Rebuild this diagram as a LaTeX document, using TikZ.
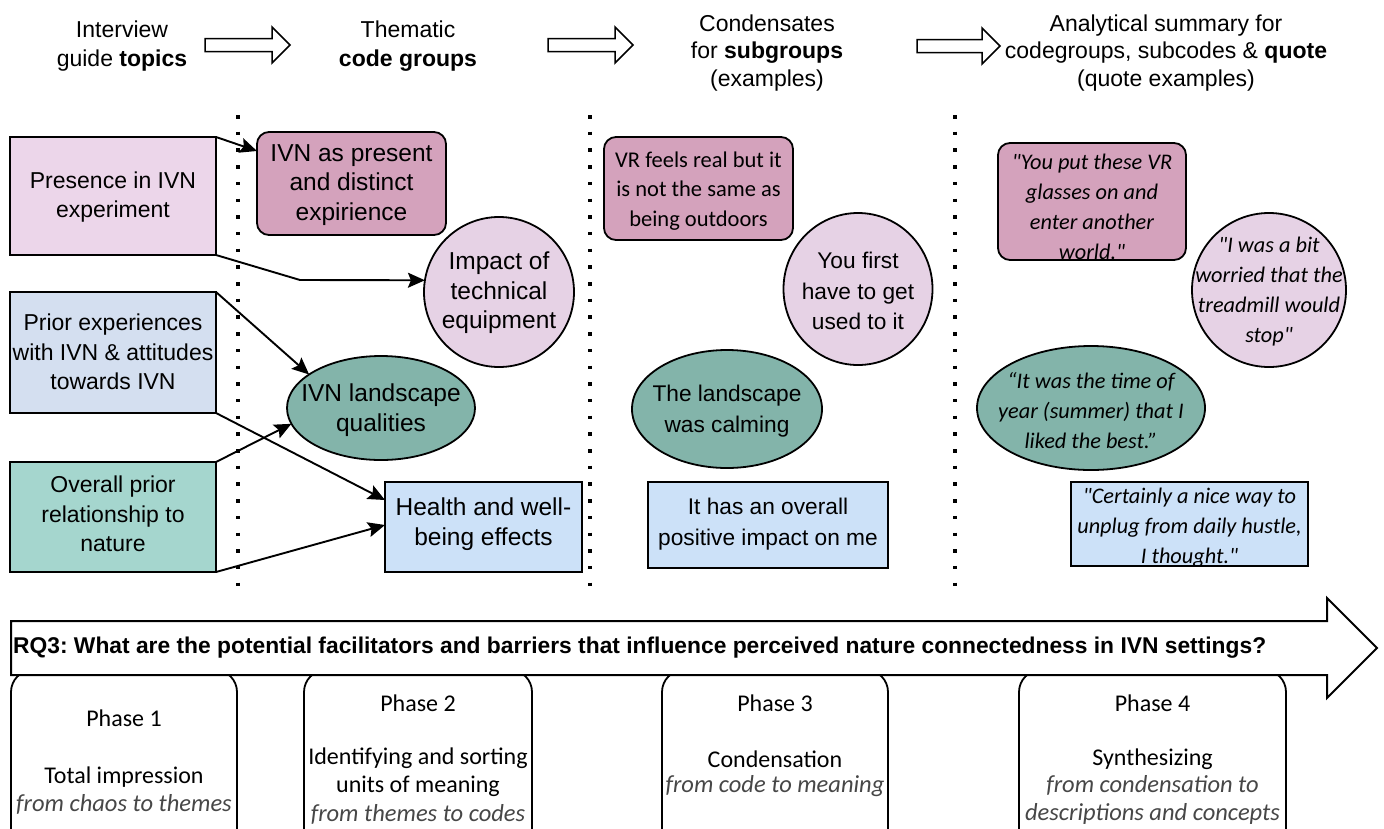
\documentclass[tikz,border=0pt]{standalone}
\usepackage{fontspec}
\setmainfont{Liberation Sans}
\newfontfamily\calfont{Carlito}
\newfontfamily\calq[Ligatures=TeXOff]{Carlito}
\usetikzlibrary{arrows.meta,shapes.geometric,calc}
\frenchspacing
\definecolor{cPres}{HTML}{ECD6EA}
\definecolor{cLight}{HTML}{E6D2E5}
\definecolor{cDark}{HTML}{D4A2BC}
\definecolor{cPrior}{HTML}{D4DFF0}
\definecolor{cOverall}{HTML}{A5D6CE}
\definecolor{cTeal}{HTML}{83B4AA}
\definecolor{cBlue}{HTML}{CCE1F8}
\newcommand\hdrarrow[3]{\draw[blk] ({#1},{#3-6.5}) -- ({#2-18},{#3-6.5}) -- ({#2-18},{#3-18}) -- ({#2},{#3}) -- ({#2-18},{#3+18}) -- ({#2-18},{#3+6.5}) -- ({#1},{#3+6.5}) -- cycle;}
\begin{document}
\begin{tikzpicture}[x=1pt,y=-1pt,
  shp/.style={draw=black,line width=1.8pt,inner sep=0pt,outer sep=0pt},
  sq/.style={shp,rectangle},
  rbox/.style={shp,rectangle,rounded corners=12pt},
  ell/.style={shp,ellipse},
  txt/.style={inner sep=0pt,align=center,text=black},
  hdr/.style={txt,font=\fontsize{23}{29}\selectfont},
  hdrt/.style={txt,font=\fontsize{23}{27.5}\selectfont},
  lab/.style={txt,font=\fontsize{23}{29.5}\selectfont},
  code/.style={txt,font=\fontsize{24.5}{29.5}\selectfont},
  cond/.style={txt,font=\fontsize{22.7}{30.5}\selectfont},
  condc/.style={txt,font=\calfont\fontsize{22.5}{29.5}\selectfont},
  quo/.style={txt,font=\calq\itshape\fontsize{22.3}{30}\selectfont},
  phase/.style={draw=black,line width=1.8pt,rectangle,rounded corners=22pt,inner sep=0pt,fill=white},
  ptxt/.style={txt,font=\calfont\fontsize{24}{28}\selectfont},
  pit/.style={txt,font=\calfont\itshape\fontsize{24.5}{28}\selectfont,text=black!72},
  conn/.style={line width=1.9pt,-{Stealth[length=17pt,width=15pt,inset=3pt]}},
  dots/.style={line width=3.5pt,dash pattern=on 3.5pt off 13.2pt},
  blk/.style={draw=black,line width=1.5pt,fill=white,line join=miter}
]
\useasboundingbox (0,0) rectangle (1384,828);
\clip (0,0) rectangle (1384,828);
\fill[white] (0,0) rectangle (1384,828);

% headers
\node[hdr] (h1) at (122,46) {Interview\\guide \textbf{topics}};
\node[hdr] (h2) at (408,46) {Thematic\\\textbf{code groups}};
\node[hdrt] (h3) at (767,53) {Condensates\\for \textbf{subgroups}\\(examples)};
\node[hdrt] (h4) at (1166,53) {Analytical summary for\\codegroups, subcodes \& \textbf{quote}\\(quote examples)};
\hdrarrow{205}{290}{45}
\hdrarrow{548}{633}{45}
\hdrarrow{917}{1000}{46}

% dotted separators
\draw[dots] (238,115) -- (238,597);
\draw[dots] (590,115) -- (590,597);
\draw[dots] (955,115) -- (955,597);

% left column
\node[sq,fill=cPres,minimum width=206,minimum height=118] (pres) at (113,196) {};
\node[lab] (tpres) at (113,197) {Presence in IVN\\experiment};
\node[sq,fill=cPrior,minimum width=206,minimum height=121] (prior) at (113,352.5) {};
\node[lab] (tprior) at (113,352) {Prior experiences\\with IVN \& attitudes\\towards IVN};
\node[sq,fill=cOverall,minimum width=206,minimum height=110] (overall) at (113,517) {};
\node[lab] (toverall) at (113,514) {Overall prior\\relationship to\\nature};

% code groups
\node[rbox,fill=cDark,minimum width=189,minimum height=103] (ivn) at (351.5,183.5) {};
\node[code] (tivn) at (351.5,185) {IVN as present\\and distinct\\expirience};
\node[ell,fill=cLight,minimum width=150,minimum height=150] (imp) at (499,292) {};
\node[code] (timp) at (499,293) {Impact of\\technical\\equipment};
\node[ell,fill=cTeal,minimum width=188,minimum height=104] (land) at (381,408) {};
\node[code] (tland) at (381,410) {IVN landscape\\qualities};
\node[sq,fill=cBlue,minimum width=197,minimum height=90] (health) at (483.5,527) {};
\node[code] (thealth) at (483.5,524) {Health and well-\\being effects};

% condensates
\node[rbox,fill=cDark,minimum width=189,minimum height=103] (vr) at (698.5,188.5) {};
\node[condc] (tvr) at (698.5,191) {VR feels real but it\\is not the same as\\being outdoors};
\node[ell,fill=cLight,minimum width=149,minimum height=152] (first) at (858,289) {};
\node[cond] (tfirst) at (858,291) {You first\\have to get\\used to it};
\node[ell,fill=cTeal,minimum width=190,minimum height=118] (calm) at (727,409) {};
\node[cond] (tcalm) at (727,411) {The landscape\\was calming};
\node[sq,fill=cBlue,minimum width=240,minimum height=86] (pos) at (768,525) {};
\node[cond] (tpos) at (768,524) {It has an overall\\positive impact on me};

% quotes
\node[rbox,fill=cDark,minimum width=188,minimum height=117] (putq) at (1092,201.5) {};
\node[quo] (tputq) at (1092,207) {"You put these VR\\glasses on and\\enter another\\world."};
\node[ell,fill=cLight,minimum width=154,minimum height=154] (bitq) at (1269,290) {};
\node[quo] (tbitq) at (1269,292) {"I was a bit\\worried that the\\treadmill would\\stop"};
\node[ell,fill=cTeal,minimum width=228,minimum height=124] (timeq) at (1091,408) {};
\node[quo] (ttimeq) at (1091,411) {“It was the time of\\year (summer) that I\\liked the best.”};
\node[sq,fill=cBlue,minimum width=237,minimum height=84] (certq) at (1189.5,524) {};
\node[quo] (tcertq) at (1189.5,528) {"Certainly a nice way to\\unplug from daily hustle,\\I thought."};

% connectors
\coordinate (bend) at (300,280);
\draw[conn] (pres.north east) -- ([yshift=32.5pt]ivn.west);
\draw[conn] (pres.south east) -- (bend) -- (imp.171);
\draw[conn] (prior.north east) -- (land.155);
\draw[conn] (prior.south east) -- ([yshift=27pt]health.west);
\draw[conn] (overall.north east) -- (land.190);
\draw[conn] (overall.south east) -- ([yshift=2pt]health.west);

% phases
\node[phase,minimum width=226,minimum height=210] (ph1) at (124,775) {};
\node[phase,minimum width=228,minimum height=210] (ph2) at (418,775) {};
\node[phase,minimum width=226,minimum height=210] (ph3) at (775,775) {};
\node[phase,minimum width=267,minimum height=210] (ph4) at (1152.5,775) {};

% RQ arrow
\draw[blk,line width=2pt] (11,621) -- (1327,621) -- (1327,598) -- (1377,648) -- (1327,698) -- (1327,675) -- (11,675) -- cycle;
\node[txt,font=\bfseries\fontsize{22.8}{26}\selectfont,anchor=west] (rq) at (13,648) {RQ3: What are the potential facilitators and barriers that influence perceived nature connectedness in IVN settings?};

\node[ptxt] (p1h) at (124,718) {Phase 1};
\node[ptxt] (p1t) at (124,777) {Total impression};
\node[pit] (p1s) at (124,804) {from chaos to themes};
\node[ptxt] (p2h) at (418,703) {Phase 2};
\node[ptxt] (p2t) at (418,772.5) {Identifying and sorting\\units of meaning};
\node[pit] (p2s) at (418,814) {from themes to codes};
\node[ptxt] (p3h) at (775,703) {Phase 3};
\node[ptxt] (p3t) at (775,759) {Condensation};
\node[pit] (p3s) at (775,786) {from code to meaning};
\node[ptxt] (p4h) at (1152.5,703) {Phase 4};
\node[ptxt] (p4t) at (1152.5,759) {Synthesizing};
\node[pit] (p4s) at (1152.5,800) {from condensation to\\descriptions and concepts};
\end{tikzpicture}
\end{document}
